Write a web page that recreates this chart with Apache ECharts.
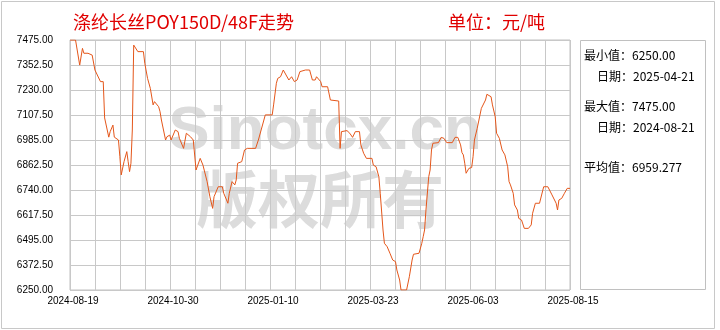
<!DOCTYPE html>
<html><head><meta charset="utf-8">
<script src="https://cdn.jsdelivr.net/npm/echarts@6/dist/echarts.min.js"></script>
<style>html,body{margin:0;padding:0;background:#fff}#c{width:720px;height:330px}</style>
</head><body><div id="c"></div>
<script>
// days since 2024-08-19
const dayOffsets = [0,4,7,9,10,13,16,18,22,24,25,28,29,31,32,35,36,37,39,41,42,43,44,45,46,47,49,53,54,56,58,60,61,64,65,66,69,70,72,73,76,78,79,82,84,87,89,91,92,94,96,97,99,101,103,104,105,107,110,111,114,115,117,119,120,121,124,126,128,134,136,140,141,146,147,149,150,152,154,155,158,160,162,164,166,170,173,175,177,178,181,182,186,188,189,194,195,196,200,202,204,206,209,210,212,214,218,219,221,223,224,226,227,229,231,233,235,236,238,239,243,245,247,248,252,254,255,256,257,259,260,261,262,266,268,270,272,276,278,280,282,283,284,285,286,288,290,291,292,294,295,297,298,300,301,302,304,305,307,308,310,312,314,316,317,318,320,321,323,324,326,328,331,333,334,336,339,342,345,348,349,351,352,353,355,357,359,361];
const prices = [7475,7475,7352,7434,7410,7410,7401,7328,7271,7271,7093,6999,7026,7058,6999,6985,6903,6814,6879,6928,6879,6830,6871,7034,7450,7450,7418,7418,7361,7287,7238,7157,7173,7148,7124,7083,6985,7001,7009,6985,7034,7026,6993,6944,7018,7001,6985,6838,6846,6895,6862,6854,6781,6707,6650,6707,6716,6756,6756,6724,6675,6724,6781,6765,6789,6871,6879,6936,6944,6944,6985,7083,7108,7108,7157,7263,7287,7295,7328,7320,7279,7295,7271,7279,7320,7328,7328,7279,7279,7295,7271,7246,7246,7181,7176,7176,6944,7026,7031,7018,6998,7026,7026,6961,6920,6895,6895,6862,6854,6805,6724,6544,6479,6462,6430,6397,6389,6348,6299,6250,6250,6315,6397,6425,6430,6479,6511,6544,6642,6805,6838,6936,6969,6972,6998,6993,6972,6972,6998,6998,6961,6923,6912,6871,6822,6846,6850,6903,6985,7042,7046,7140,7148,7181,7209,7214,7197,7157,7099,7018,6993,6936,6912,6854,6781,6765,6724,6667,6642,6601,6593,6552,6552,6569,6626,6675,6675,6756,6756,6716,6707,6675,6642,6691,6699,6724,6748,6748];
const xTickLabels = ['2024-08-19','2024-10-30','2025-01-10','2025-03-23','2025-06-03','2025-08-15'];
const yMin = 6250, yMax = 7475, yStep = 122.5;
const statNames = ['最小值：','日期：','最大值：','日期：','平均值：'];
const statValues = ['6250.00','2025-04-21','7475.00','2024-08-21','6959.277'];
const titleText = '涤纶长丝POY150D/48F走势';
const unitText = '单位：元/吨';

const totalDays = 361;
const xStep = totalDays / 20;
const chart = echarts.init(document.getElementById('c'), null, {renderer: 'canvas'});
const cjk = '"Noto Sans CJK SC", sans-serif';
const statY = [55, 76, 106, 127, 167];
const statX = [584, 597, 584, 597, 584];
const graphics = [
  {type:'rect', shape:{x:1.5,y:1.5,width:713,height:327}, style:{fill:'none',stroke:'#c8c8c8',lineWidth:1}},
  {type:'rect', shape:{x:580.5,y:40.5,width:125,height:249}, style:{fill:'none',stroke:'#c0c0c0',lineWidth:1}},
  {type:'text', x:73, y:22, style:{text:titleText, font:'18px '+cjk, fill:'#e00000', verticalAlign:'middle'}},
  {type:'text', x:448, y:22, style:{text:unitText, font:'18px '+cjk, fill:'#e00000', verticalAlign:'middle'}},
  {type:'text', x:325, y:132, z:-10, style:{text:'Sinotcx.cn', font:'bold 62px "Liberation Sans", sans-serif', fill:'#dcdcdc', align:'center', verticalAlign:'middle'}},
  {type:'text', x:320, y:199, z:-10, style:{text:'版权所有', font:'bold 62px '+cjk, fill:'#dcdcdc', align:'center', verticalAlign:'middle'}}
];
statNames.forEach((n,i)=>{
  graphics.push({type:'text', x:statX[i], y:statY[i], style:{text:n+statValues[i], font:'12px '+cjk, fill:'#000', verticalAlign:'middle'}});
});

chart.setOption({
  animation:false,
  backgroundColor:'#fff',
  grid:{left:70, right:150, top:40, bottom:40, show:true, borderColor:'#c0c0c0', borderWidth:1, containLabel:false},
  xAxis:{type:'value', min:0, max:totalDays, interval:xStep,
    axisLine:{show:false}, axisTick:{show:false},
    splitLine:{show:true, lineStyle:{color:'#c8c8c8', width:1}},
    axisLabel:{margin:6, fontSize:10, color:'#000', fontFamily:'"Liberation Sans", sans-serif', padding:[0,0,0,6],
      formatter:function(v){const k=Math.round(v/xStep); return k%4===0 ? (xTickLabels[k/4]||'') : '';}}
  },
  yAxis:{type:'value', min:0, max:yMax-yMin, interval:yStep,
    axisLine:{show:false}, axisTick:{show:false},
    splitLine:{show:true, lineStyle:{color:'#c8c8c8', width:1}},
    axisLabel:{margin:17, fontSize:10, color:'#000', fontFamily:'"Liberation Sans", sans-serif', padding:[0,0,6,0],
      formatter:function(v){return (v+yMin).toFixed(2);}}
  },
  series:[{type:'line', showSymbol:false, symbol:'none', z:5,
    lineStyle:{color:'#e4561a', width:1},
    data: dayOffsets.map((d,i)=>[d, prices[i]-yMin])}],
  graphic:{elements:graphics}
});
</script></body></html>
